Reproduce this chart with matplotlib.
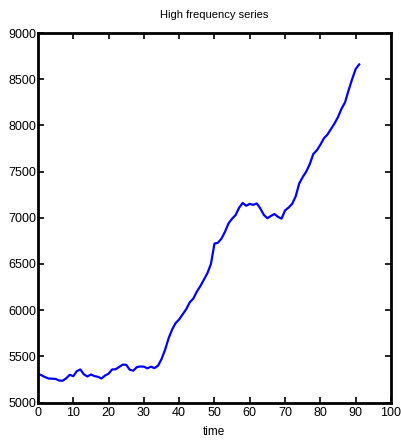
import matplotlib
matplotlib.use("Agg")
import matplotlib.pyplot as plt
import numpy as np

plt.rcParams['font.family'] = ['Liberation Sans', 'DejaVu Sans']

# values, one per time step
time = np.arange(0, 92)
series = [5310, 5295, 5275, 5260, 5258, 5255, 5238, 5236, 5262, 5300,
          5285, 5340, 5358, 5305, 5282, 5303, 5286, 5278, 5260, 5292,
          5312, 5358, 5360, 5385, 5410, 5408, 5355, 5345, 5383, 5390,
          5388, 5370, 5388, 5372, 5398, 5470, 5570, 5695, 5790, 5860,
          5900, 5955, 6010, 6085, 6125, 6200, 6260, 6330, 6400, 6500,
          6720, 6730, 6775, 6850, 6940, 6990, 7030, 7110, 7160, 7130,
          7150, 7140, 7155, 7100, 7030, 6995, 7020, 7040, 7010, 6990,
          7080, 7110, 7150, 7230, 7370, 7440, 7500, 7580, 7690, 7730,
          7790, 7860, 7900, 7960, 8020, 8090, 8180, 8250, 8380, 8500,
          8610, 8660]

xticks = np.arange(0, 101, 10)
yticks = np.arange(5000, 9001, 500)

fig = plt.figure(figsize=(4.02, 4.46), dpi=100)
ax = fig.add_axes([0.0945, 0.0975, 0.878, 0.8285])
ax.plot(time, series, color=(0, 0, 1), linewidth=1.6)

ax.set_xlim(0, 100)
ax.set_ylim(5000, 9000)
ax.set_xticks(xticks)
ax.set_yticks(yticks)
ax.tick_params(direction='in', length=4, width=1.2, top=True, right=True,
               labelsize=9, pad=1.5)
ax.tick_params(axis='x', pad=3.5)
for s in ax.spines.values():
    s.set_linewidth(2)

ax.set_title('High frequency series', fontsize=8, pad=11)
ax.set_xlabel('time', fontsize=8.5, labelpad=5)

fig.savefig('out.png', dpi=100)
